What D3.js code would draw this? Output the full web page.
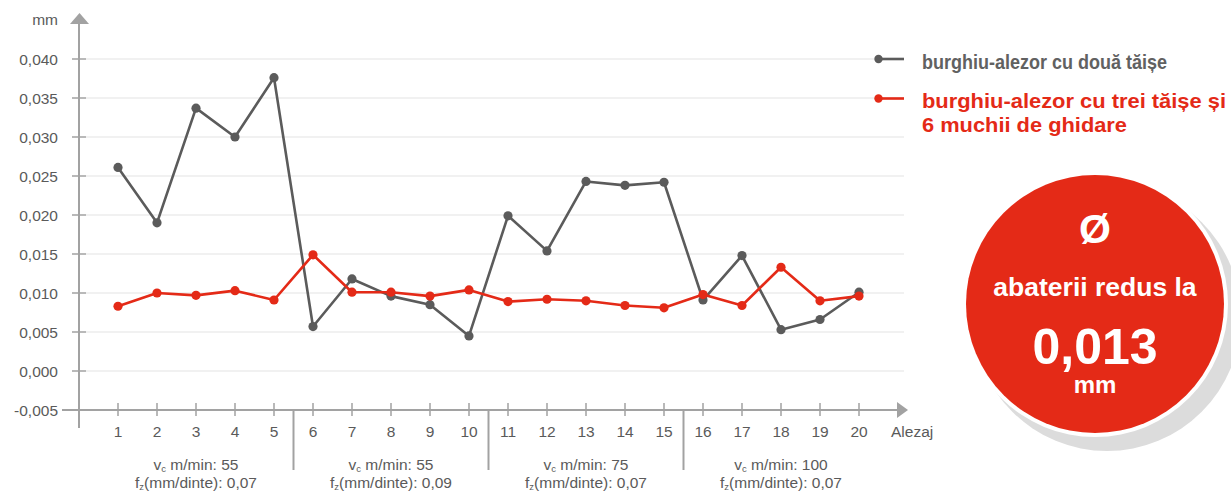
<!DOCTYPE html>
<html>
<head>
<meta charset="utf-8">
<script src="https://cdn.jsdelivr.net/npm/d3@7"></script>
<style>
  html, body { margin: 0; padding: 0; background: #fff; }
  svg { display: block; font-family: "Liberation Sans", Arial, Helvetica, sans-serif; }
</style>
</head>
<body>
<svg id="chart" width="1231" height="492"></svg>
<script>
// Bore number (Alezaj) along the x axis
const holes = d3.range(1, 21);

// Diameter deviation in mm per bore
const twoFlute = [0.0261, 0.0190, 0.0337, 0.0300, 0.0376, 0.0057, 0.0118, 0.0096, 0.0085, 0.0045,
                  0.0199, 0.0154, 0.0243, 0.0238, 0.0242, 0.0091, 0.0148, 0.0053, 0.0066, 0.0101];
const threeFlute = [0.0083, 0.0100, 0.0097, 0.0103, 0.0091, 0.0149, 0.0101, 0.0101, 0.0096, 0.0104,
                    0.0089, 0.0092, 0.0090, 0.0084, 0.0081, 0.0098, 0.0084, 0.0133, 0.0090, 0.0096];

const yTicks = [-0.005, 0, 0.005, 0.010, 0.015, 0.020, 0.025, 0.030, 0.035, 0.040];

// Cutting parameter groups (first bore, last bore, cutting speed, feed per tooth)
const groupFirst = [1, 6, 11, 16];
const groupLast = [5, 10, 15, 20];
const groupVc = ["55", "55", "75", "100"];
const groupFz = ["0,07", "0,09", "0,07", "0,07"];

const seriesNames = ["burghiu-alezor cu două tăișe", "burghiu-alezor cu trei tăișe și", "6 muchii de ghidare"];

const GRAY = "#5b5b5b";
const RED = "#e42a17";
const AXIS = "#a2a2a2";
const TEXT = "#5a5a5a";

const svg = d3.select("#chart");
const x = d3.scalePoint().domain(holes).range([118, 859]);
const y = d3.scaleLinear().domain([-0.005, 0.040]).range([410, 59]);
const fmt = d3.formatLocale({ decimal: ",", thousands: ".", grouping: [3], currency: ["", ""], minus: "-" }).format(".3f");

// Horizontal gridlines
svg.append("g").selectAll("line").data(yTicks.filter(d => d >= 0)).join("line")
  .attr("x1", 86).attr("x2", 904)
  .attr("y1", d => y(d)).attr("y2", d => y(d))
  .attr("stroke", "#ececec").attr("stroke-width", 1.5);

// Y axis
const yAxis = svg.append("g");
yAxis.append("line").attr("x1", 79).attr("x2", 79).attr("y1", 22).attr("y2", 428)
  .attr("stroke", AXIS).attr("stroke-width", 2);
yAxis.append("path").attr("d", "M70,24 L79.5,13 L89,24 Z").attr("fill", AXIS);
yAxis.selectAll("line.tick").data(yTicks.filter(d => d >= 0)).join("line").attr("class", "tick")
  .attr("x1", 72).attr("x2", 86).attr("y1", d => y(d)).attr("y2", d => y(d))
  .attr("stroke", AXIS).attr("stroke-width", 1.5);
yAxis.selectAll("text").data(yTicks).join("text")
  .attr("x", 58).attr("y", d => y(d)).attr("dy", "0.36em")
  .attr("text-anchor", "end").attr("font-size", 15.5).attr("fill", TEXT)
  .text(d => fmt(d));
svg.append("text").attr("x", 58).attr("y", 25).attr("text-anchor", "end")
  .attr("font-size", 15.5).attr("fill", TEXT).text("mm");

// X axis
const xAxis = svg.append("g");
xAxis.append("line").attr("x1", 62).attr("x2", 898).attr("y1", y(-0.005)).attr("y2", y(-0.005))
  .attr("stroke", AXIS).attr("stroke-width", 2);
xAxis.append("path").attr("d", `M897,${y(-0.005) - 8} L908,${y(-0.005)} L897,${y(-0.005) + 8} Z`).attr("fill", AXIS);
xAxis.selectAll("line.tick").data(holes).join("line").attr("class", "tick")
  .attr("x1", d => x(d)).attr("x2", d => x(d)).attr("y1", 403).attr("y2", 416)
  .attr("stroke", AXIS).attr("stroke-width", 1.5);
xAxis.selectAll("text.lab").data(holes).join("text").attr("class", "lab")
  .attr("x", d => x(d)).attr("y", 437).attr("text-anchor", "middle")
  .attr("font-size", 15.5).attr("fill", TEXT).text(d => d);
xAxis.append("text").attr("x", 891).attr("y", 437).attr("font-size", 15.5).attr("fill", TEXT).text("Alezaj");

// Group separators and cutting-parameter labels
const step = x.step();
xAxis.selectAll("line.sep").data(groupLast.slice(0, 3)).join("line").attr("class", "sep")
  .attr("x1", d => x(d) + step / 2).attr("x2", d => x(d) + step / 2)
  .attr("y1", 409).attr("y2", 470).attr("stroke", AXIS).attr("stroke-width", 2);

groupFirst.forEach((g, i) => {
  const cx = (x(g) + x(groupLast[i])) / 2;
  const t1 = xAxis.append("text").attr("x", cx).attr("y", 469.5).attr("text-anchor", "middle")
    .attr("font-size", 15.5).attr("fill", TEXT);
  t1.append("tspan").text("v");
  t1.append("tspan").attr("font-size", 9.5).attr("dy", 2).text("c");
  t1.append("tspan").attr("dy", -2).text(" m/min: " + groupVc[i]);
  const t2 = xAxis.append("text").attr("x", cx).attr("y", 487.5).attr("text-anchor", "middle")
    .attr("font-size", 15.5).attr("fill", TEXT);
  t2.append("tspan").text("f");
  t2.append("tspan").attr("font-size", 9.5).attr("dy", 2).text("z");
  t2.append("tspan").attr("dy", -2).text("(mm/dinte): " + groupFz[i]);
});

// Series lines and markers
const line = d3.line().x((d, i) => x(holes[i])).y(d => y(d));
function drawSeries(values, color) {
  const g = svg.append("g");
  g.append("path").datum(values).attr("d", line).attr("fill", "none")
    .attr("stroke", color).attr("stroke-width", 2.6).attr("stroke-linejoin", "round");
  g.selectAll("circle").data(values).join("circle")
    .attr("cx", (d, i) => x(holes[i])).attr("cy", d => y(d)).attr("r", 4.6).attr("fill", color);
}
drawSeries(twoFlute, GRAY);
drawSeries(threeFlute, RED);

// Legend
const leg = svg.append("g");
leg.append("line").attr("x1", 875).attr("x2", 904).attr("y1", 59).attr("y2", 59).attr("stroke", GRAY).attr("stroke-width", 2.6);
leg.append("circle").attr("cx", 878.5).attr("cy", 59).attr("r", 4.2).attr("fill", GRAY);
leg.append("line").attr("x1", 875).attr("x2", 904).attr("y1", 98.5).attr("y2", 98.5).attr("stroke", RED).attr("stroke-width", 2.6);
leg.append("circle").attr("cx", 878.5).attr("cy", 98.5).attr("r", 4.2).attr("fill", RED);
leg.append("text").attr("x", 922).attr("y", 69).attr("font-size", 20.5).attr("font-weight", "bold")
  .attr("fill", "#616161").attr("textLength", 245).attr("lengthAdjust", "spacingAndGlyphs").text(seriesNames[0]);
leg.append("text").attr("x", 922).attr("y", 107.5).attr("font-size", 20.5).attr("font-weight", "bold")
  .attr("fill", RED).attr("textLength", 304).attr("lengthAdjust", "spacingAndGlyphs").text(seriesNames[1]);
leg.append("text").attr("x", 922).attr("y", 132).attr("font-size", 20.5).attr("font-weight", "bold")
  .attr("fill", RED).attr("textLength", 205).attr("lengthAdjust", "spacingAndGlyphs").text(seriesNames[2]);

// Highlight badge
const badge = svg.append("g");
badge.append("circle").attr("cx", 1107).attr("cy", 317).attr("r", 134).attr("fill", "#dcdcdc");
badge.append("circle").attr("cx", 1095).attr("cy", 304).attr("r", 133).attr("fill", "#fff");
badge.append("circle").attr("cx", 1095).attr("cy", 304).attr("r", 129).attr("fill", RED);
badge.append("text").attr("x", 1095).attr("y", 242.5).attr("text-anchor", "middle")
  .attr("font-size", 41).attr("font-weight", "bold").attr("fill", "#fff").text("Ø");
badge.append("text").attr("x", 1095).attr("y", 296).attr("text-anchor", "middle")
  .attr("font-size", 26.5).attr("font-weight", "bold").attr("fill", "#fff").text("abaterii redus la");
badge.append("text").attr("x", 1095).attr("y", 364).attr("text-anchor", "middle")
  .attr("font-size", 50).attr("font-weight", "bold").attr("fill", "#fff").text("0,013");
badge.append("text").attr("x", 1095).attr("y", 393).attr("text-anchor", "middle")
  .attr("font-size", 24).attr("font-weight", "bold").attr("fill", "#fff").text("mm");
</script>
</body>
</html>
